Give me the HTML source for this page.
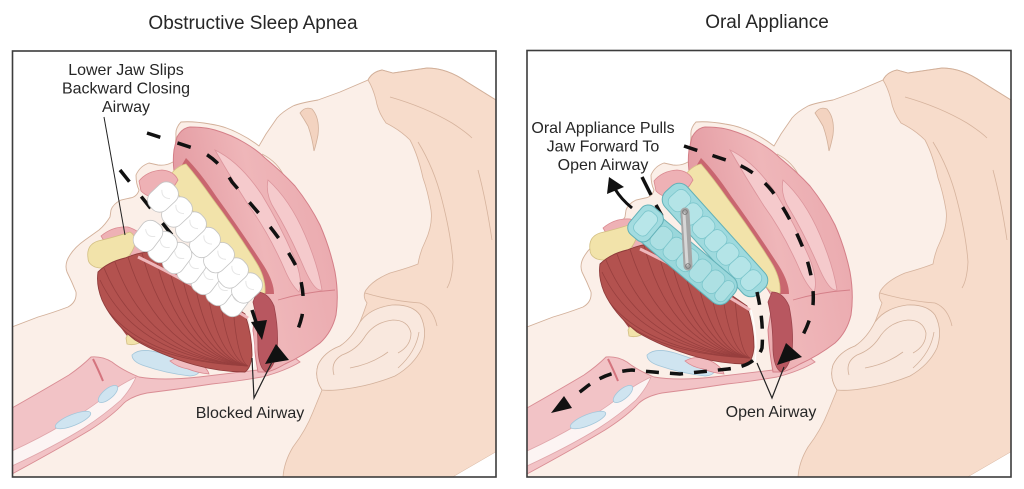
<!DOCTYPE html>
<html><head><meta charset="utf-8"><style>
html,body{margin:0;padding:0;background:#fff;}
svg{display:block;}
text{font-family:"Liberation Sans",Arial,sans-serif;fill:#262626;}
</style></head><body>
<svg width="1024" height="489" viewBox="0 0 1024 489" xmlns="http://www.w3.org/2000/svg">
<defs>
<clipPath id="cpL"><rect x="12" y="51" width="484" height="426"/></clipPath>
<clipPath id="cpR"><rect x="527" y="51" width="484" height="426"/></clipPath>
<clipPath id="mc"><path d="M98,272 Q108,262 125,258 Q140,252 150,252 Q175,265 200,283 Q225,300 245,314 Q252,335 252,355 Q251,368 245,372 Q220,372 195,365 Q160,355 135,340 Q112,322 102,300 Q96,285 98,272 Z"/></clipPath>
<linearGradient id="pg" x1="0" y1="0.3" x2="1" y2="0">
<stop offset="0" stop-color="#e39aa1"/><stop offset="0.45" stop-color="#efb6b9"/><stop offset="1" stop-color="#e9a7ac"/>
</linearGradient>
<g id="base">
<path d="M496,100 L467,82 Q447,68 427,68 L393,73 L382,70 Q372,72 368,80 L340,92 L318,100 Q300,103 293,106 Q282,112 277,118 L266,134 L259,146 Q250,139 240,134 Q225,126 210,124 Q193,121 181,122 Q175,128 176,136 L175,150 Q177,158 173,162 Q166,166 158,165 L149,163 Q140,166 136,175 Q136,184 139,190 Q137,197 130,198 L121,200 Q113,204 111,210 L110,217 Q105,225 99,230 L85,240 Q75,247 70,255 Q64,264 67,272 Q72,282 76,292 Q77,302 68,307 Q52,313 38,317 L12,327 L12,477 L496,477 Z" fill="#fbefe8"/>
<path d="M368,80 Q372,72 382,70 L393,73 L427,68 Q447,68 467,82 L496,100 L496,452 L453,477 L283,477 Q284,462 293,447 Q306,430 313,412 L322,390 Q314,378 318,365 Q324,352 340,346 Q352,338 360,322 Q364,312 367,303 Q362,296 366,290 Q373,280 390,273 Q408,268 418,264 Q420,252 425,242 Q433,225 431,210 Q428,192 423,178 Q418,155 410,140 Q400,130 386,123 Q378,112 376,100 Q373,88 368,80 Z" fill="#f7dccb" stroke="#d6b39d" stroke-width="0.8"/>
<path d="M496,452 L453,477 L496,477 Z" fill="#fff"/>
<g fill="none" stroke="#d6b39d" stroke-width="0.8">
<path d="M390,97 Q425,107 452,123 Q466,132 472,138"/>
<path d="M418,142 Q434,168 442,200 Q451,235 453,262 Q452,280 447,288"/>
<path d="M478,170 Q486,200 492,240"/>
<path d="M365,293 Q392,301 420,303 Q433,308 437,326"/>
</g>
<path d="M322,390 Q314,378 318,365 Q324,352 340,346 Q352,338 360,322 Q370,308 392,305 Q412,304 420,315 Q428,330 422,348 Q414,365 395,376 Q370,386 345,389 Q332,391 322,390 Z" fill="#f9e8de" stroke="#d2b09a" stroke-width="0.8"/>
<g fill="none" stroke="#d2b09a" stroke-width="0.8">
<path d="M334,375 Q330,362 342,355 Q356,350 364,338 Q374,322 393,320 Q408,320 411,333 Q411,346 398,353"/>
<path d="M350,368 Q372,364 388,352"/>
<path d="M398,368 Q416,352 419,332"/>
<path d="M262,154 Q278,162 285,178"/>
</g>
<path d="M300,113 Q305,106 312,109 Q320,118 318,135 Q316,145 314,151 Q312,137 308,126 Q304,119 300,113 Z" fill="#f3d3c0" stroke="#d2b09a" stroke-width="0.8"/>
<path d="M496,100 L467,82 Q447,68 427,68 L393,73 L382,70 Q372,72 368,80 L340,92 L318,100 Q300,103 293,106 Q282,112 277,118 L266,134 L259,146 Q250,139 240,134 Q225,126 210,124 Q193,121 181,122 Q175,128 176,136 L175,150 Q177,158 173,162 Q166,166 158,165 L149,163 Q140,166 136,175 Q136,184 139,190 Q137,197 130,198 L121,200 Q113,204 111,210 L110,217 Q105,225 99,230 L85,240 Q75,247 70,255 Q64,264 67,272 Q72,282 76,292 Q77,302 68,307 Q52,313 38,317 L12,327" fill="none" stroke="#d2b09a" stroke-width="0.9"/>
<path d="M12,408 Q42,391 69,375 Q82,366 91,357 Q102,356 112,362 Q122,370 139,377 Q162,381 199,377 Q232,373 258,370 L295,358 L300,362 Q285,371 262,377 Q232,382 212,384 Q180,389 147,393 Q132,396 124,403 Q112,416 90,430 Q60,448 12,474 Z" fill="#f2c3c6" stroke="#d98d94" stroke-width="0.9"/>
<path d="M12,451 Q40,438 62,425 Q88,410 103,398 Q117,386 136,377 Q131,389 121,400 Q104,415 84,428 Q55,446 12,466 Z" fill="#fcf4f3" stroke="#e0a6ab" stroke-width="0.8"/>
<g fill="#cfe4f0" stroke="#a3c6da" stroke-width="0.8">
<ellipse cx="108" cy="394" rx="12" ry="5" transform="rotate(-40 108 394)"/>
<ellipse cx="73" cy="420" rx="19" ry="5.5" transform="rotate(-22 73 420)"/>
<path d="M132,355 Q140,347 160,353 Q185,361 199,367 Q202,375 190,376 Q165,373 145,366 Q132,362 132,355 Z"/>
</g>
<path d="M93,359 Q98,369 103,381" stroke="#d4747e" stroke-width="2" fill="none"/>
<path d="M170,361 Q182,354 196,361 Q207,367 209,374 Q198,373 188,369 Q177,367 170,361 Z" fill="#f1bcc0" stroke="#d9868e" stroke-width="0.8"/>
<path d="M177,137 Q182,128 190,127 Q205,127 215,130 Q232,135 245,143 Q257,150 265,158 Q282,172 295,186 Q310,205 320,225 Q330,248 335,272 Q339,295 336,315 Q332,332 320,343 Q303,356 285,364 Q275,370 267,372 L258,372 Q254,350 253,330 L258,298 Q235,260 210,232 Q188,205 176,182 Q172,165 174,150 Z" fill="url(#pg)" stroke="#d47f88" stroke-width="1"/>
<g fill="#f5cacc" stroke="#dc959c" stroke-width="0.8">
<path d="M215,150 Q240,162 262,195 Q282,228 296,262 Q303,282 299,292 Q291,285 284,268 Q268,232 249,206 Q231,178 215,150 Z"/>
<path d="M268,180 Q290,200 305,235 Q318,265 322,290 Q315,292 305,270 Q290,235 275,210 Q265,195 268,180 Z"/>
</g>
<path d="M278,300 Q305,292 335,290" fill="none" stroke="#d47f88" stroke-width="0.9"/>
<path d="M186,158 Q200,172 216,196 Q242,232 264,266 Q274,282 274,294 L262,294 Q256,278 246,262 Q222,228 200,200 Q186,182 180,168 Z" fill="#c9666f"/>
<path d="M168,178 Q176,166 186,164 Q198,178 212,198 Q236,230 256,262 Q266,278 265,293 Q257,295 250,285 Q230,256 206,226 Q186,203 174,190 Z" fill="#f2e3aa" stroke="#d8c587" stroke-width="0.8"/>
<path d="M257,292 Q268,292 274,306 Q279,330 277,352 Q274,368 266,372 Q259,368 258,350 Q258,322 253,302 Z" fill="#b85760" stroke="#9c444c" stroke-width="0.8"/>
<path d="M139,181 Q147,171 162,170 Q174,171 178,180 Q172,191 162,198 Q149,199 141,191 Z" fill="#eeb1b5" stroke="#d9888f" stroke-width="0.8"/>
</g>
<g id="jaw">
<path d="M101,236 Q113,226 128,227 Q141,231 147,242 Q149,254 141,263 Q133,262 129,251 Q121,242 104,241 Z" fill="#eeb1b5" stroke="#d9888f" stroke-width="0.8"/>
<path d="M88,258 Q86,245 98,241 Q115,237 130,232 Q137,236 134,247 Q130,258 118,265 Q105,270 95,267 Q88,264 88,258 Z" fill="#f2e3aa" stroke="#d3bf83" stroke-width="0.8"/>
<path d="M104,300 Q116,322 127,336 L138,331 Q126,316 118,298 Z" fill="#a9494a"/>
<path d="M126,338 Q131,328 139,329 Q145,334 141,342 Q134,346 127,344 Z" fill="#f2e3aa" stroke="#d3bf83" stroke-width="0.8"/>
<path d="M98,272 Q108,262 125,258 Q140,252 150,252 Q175,265 200,283 Q225,300 245,314 Q252,335 252,355 Q251,368 245,372 Q220,372 195,365 Q160,355 135,340 Q112,322 102,300 Q96,285 98,272 Z" fill="#b3524f" stroke="#8f3b3b" stroke-width="0.9"/>
<g clip-path="url(#mc)" fill="none" stroke="#8c3838" stroke-width="0.8" opacity="0.7">
<path d="M100,280 Q137,357 248,366"/>
<path d="M104,268 Q140,356 248,366"/>
<path d="M115,262 Q148,356 248,366"/>
<path d="M128,257 Q158,355 248,366"/>
<path d="M142,253 Q168,355 248,366"/>
<path d="M155,255 Q178,355 248,366"/>
<path d="M168,263 Q188,356 248,366"/>
<path d="M181,271 Q198,356 248,366"/>
<path d="M194,279 Q207,357 248,366"/>
<path d="M207,288 Q217,358 248,366"/>
<path d="M220,297 Q227,359 248,366"/>
<path d="M233,306 Q237,360 248,366"/>
<path d="M100,300 Q137,359 248,366"/>
<path d="M108,315 Q143,361 248,366"/>
</g>
<path d="M138,257 Q190,282 248,318" stroke="#efb7bb" stroke-width="3" fill="none"/>
<path d="M249,318 Q256,345 253,370" stroke="#fff" stroke-width="1.4" fill="none"/>
</g>
<g id="tooth"><rect x="-11.5" y="-16" width="23" height="32" rx="10" fill="#fff" stroke="#c4c4c4" stroke-width="0.8"/><path d="M-6,-4 Q0,2 6,-4" fill="none" stroke="#e6e6e6" stroke-width="1"/></g>
</defs>

<!-- LEFT PANEL -->
<g clip-path="url(#cpL)">
<use href="#base"/>
<use href="#jaw"/>
<path d="M120,170 L172,235 Q212,270 250,306" fill="none" stroke="#111" stroke-width="3.5" stroke-dasharray="15 19"/>
<use href="#tooth" transform="translate(235,301) rotate(37)"/>
<use href="#tooth" transform="translate(220.5,290) rotate(37)"/>
<use href="#tooth" transform="translate(206,279) rotate(37)"/>
<use href="#tooth" transform="translate(191.5,268) rotate(37)"/>
<use href="#tooth" transform="translate(177,258) rotate(37)"/>
<use href="#tooth" transform="translate(162.5,247) rotate(37)"/>
<use href="#tooth" transform="translate(148,236) rotate(37)"/>
<use href="#tooth" transform="translate(247,288) rotate(47)"/>
<use href="#tooth" transform="translate(233,273) rotate(47)"/>
<use href="#tooth" transform="translate(219,257.7) rotate(47)"/>
<use href="#tooth" transform="translate(205,242.5) rotate(47)"/>
<use href="#tooth" transform="translate(191,227) rotate(47)"/>
<use href="#tooth" transform="translate(177,212) rotate(47)"/>
<use href="#tooth" transform="translate(163,197) rotate(47)"/>
<path d="M147,133 L196,149 Q218,158 232,182 L262,217 Q285,244 297,268 Q306,292 302,316 Q298,333 290,343" fill="none" stroke="#111" stroke-width="3.5" stroke-dasharray="14 18"/>
<path d="M252,310 L256,322" stroke="#111" stroke-width="3.5"/>
<path d="M262,340 L251,322 L267,320 Z" fill="#111"/>
<path d="M265,364 L276,344 L289,360 Z" fill="#111"/>
<path d="M104,117 L125,235" stroke="#222" stroke-width="1"/>
<path d="M252,358 L254,398 L272,362" fill="none" stroke="#222" stroke-width="1.2"/>
</g>

<!-- RIGHT PANEL -->
<g clip-path="url(#cpR)">
<g transform="translate(515,0)">
<use href="#base"/>
<use href="#jaw" transform="translate(-13,-8)"/>
</g>
<path d="M642,177 L651,195 M656,205 L662,216" stroke="#111" stroke-width="3.5" fill="none"/>
<g transform="translate(715,240) rotate(48)">
<rect x="-69" y="-15" width="138" height="30" rx="11" fill="#9fdade" stroke="#62b1b8" stroke-width="1"/>
<g fill="#b4e4e7" stroke="#7cc6cc" stroke-width="0.8">
<rect x="-62" y="-11" width="18" height="22" rx="7"/><rect x="-44" y="-11" width="18" height="22" rx="7"/><rect x="-26" y="-11" width="18" height="22" rx="7"/><rect x="-8" y="-11" width="18" height="22" rx="7"/><rect x="10" y="-11" width="18" height="22" rx="7"/><rect x="28" y="-11" width="18" height="22" rx="7"/><rect x="46" y="-11" width="16" height="22" rx="7"/>
</g>
</g>
<g transform="translate(684,257) rotate(40)">
<rect x="-62" y="-16" width="124" height="32" rx="11" fill="#9ad7db" stroke="#62b1b8" stroke-width="1"/>
<g fill="#ade0e3" stroke="#7cc6cc" stroke-width="0.8">
<rect x="-38" y="-12" width="17" height="24" rx="7"/><rect x="-21" y="-12" width="17" height="24" rx="7"/><rect x="-4" y="-12" width="17" height="24" rx="7"/><rect x="13" y="-12" width="17" height="24" rx="7"/><rect x="30" y="-12" width="17" height="24" rx="7"/><rect x="47" y="-12" width="12" height="24" rx="6"/>
</g>
<rect x="-64" y="-19" width="26" height="36" rx="9" fill="#a3dce0" stroke="#62b1b8" stroke-width="1"/>
<rect x="-59" y="-14" width="16" height="26" rx="6" fill="#b8e6e9" stroke="#7cc6cc" stroke-width="0.8"/>
</g>
<line x1="685" y1="212" x2="688" y2="266" stroke="#a6a6a6" stroke-width="9" stroke-linecap="round"/>
<line x1="684" y1="214" x2="687" y2="264" stroke="#d6d6d6" stroke-width="3" stroke-linecap="round"/>
<circle cx="685" cy="212" r="2.3" fill="none" stroke="#777" stroke-width="0.9"/>
<circle cx="688" cy="266" r="2.3" fill="none" stroke="#777" stroke-width="0.9"/>
<path d="M684,146 L732,162 Q756,171 772,191 Q790,216 803,248 Q815,280 813,305 Q810,325 797,345" fill="none" stroke="#111" stroke-width="3.5" stroke-dasharray="14 16"/>
<path d="M757,292 Q764,322 762,348 Q756,366 728,369 L680,374 Q650,372 632,370 Q605,372 585,388 L572,398" fill="none" stroke="#111" stroke-width="3.5" stroke-dasharray="13 11"/>
<path d="M777,365 L786,343 L802,357 Z" fill="#111"/>
<path d="M551,413 L564,396 L572,408 Z" fill="#111"/>
<path d="M632,208 Q621,199 615,189" fill="none" stroke="#111" stroke-width="3"/>
<path d="M609,177 L607,194 L624,187 Z" fill="#111"/>
<path d="M757,363 L772,398 L784,367" fill="none" stroke="#222" stroke-width="1.2"/>
</g>

<rect x="12.5" y="51" width="483.5" height="426" fill="none" stroke="#3c3c3c" stroke-width="1.6"/>
<rect x="527" y="50.5" width="484" height="426.5" fill="none" stroke="#3c3c3c" stroke-width="1.6"/>

<text x="253" y="29" font-size="19" text-anchor="middle">Obstructive Sleep Apnea</text>
<text x="767" y="28" font-size="19" text-anchor="middle">Oral Appliance</text>
<text x="126" y="75" font-size="16" text-anchor="middle">Lower Jaw Slips</text>
<text x="126" y="93.5" font-size="16" text-anchor="middle">Backward Closing</text>
<text x="126" y="112" font-size="16" text-anchor="middle">Airway</text>
<text x="250" y="418" font-size="16" text-anchor="middle">Blocked Airway</text>
<text x="603" y="133" font-size="16" text-anchor="middle">Oral Appliance Pulls</text>
<text x="603" y="151.5" font-size="16" text-anchor="middle">Jaw Forward To</text>
<text x="603" y="170" font-size="16" text-anchor="middle">Open Airway</text>
<text x="771" y="417" font-size="16" text-anchor="middle">Open Airway</text>
</svg>
</body></html>
